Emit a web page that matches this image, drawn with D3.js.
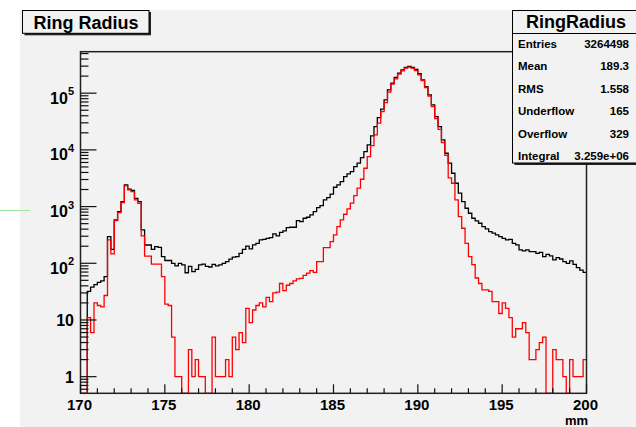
<!DOCTYPE html>
<html>
<head>
<meta charset="utf-8">
<script src="https://d3js.org/d3.v7.min.js"></script>
<style>
body{margin:0;background:#fff;}
svg{display:block;font-family:"Liberation Sans",Arial,sans-serif;font-weight:bold;}
</style>
</head>
<body>
<script>
(function(){

//histogram binning (mm)
var binLow = 170, binWidth = 0.2;

//RingRadius counts, one per 0.2 mm bin (black)
var ringRadius = [
    0, 0, 32, 38, 42, 46, 49, 58, 296, 176,
    580, 815, 1225, 2410, 2020, 1920, 1400, 1225, 388, 210,
    210, 176, 196, 190, 131, 112, 112, 100, 90, 100,
    94, 68, 88, 71, 78, 94, 97, 88, 86, 96,
    90, 94, 100, 107, 118, 128, 131, 150, 176, 200,
    179, 211, 225, 258, 265, 276, 284, 330, 304, 352,
    372, 426, 432, 432, 566, 544, 622, 648, 713, 816,
    960, 1041, 1312, 1443, 1652, 2194, 2411, 2760, 3381, 3768,
    4150, 5085, 5822, 7330, 9350, 12250, 17650, 25800, 37200, 52200,
    76300, 114500, 150000, 189000, 225000, 258000, 284000, 296000, 284000, 262000,
    220000, 172000, 131000, 93500, 62300, 38700, 25800, 15000, 8720, 5820,
    3870, 2580, 1720, 1225, 935, 762, 622, 558, 508, 444,
    404, 362, 339, 316, 296, 276, 258, 265, 225, 211,
    172, 165, 172, 161, 161, 150, 156, 131, 144, 135,
    115, 126, 119, 107, 100, 110, 96, 84, 76, 69
];

//second (red) histogram, same binning
var ringRadiusRed = [
    0, 0, 11, 6, 20, 18, 17, 27, 258, 146,
    565, 780, 1180, 2320, 1970, 1840, 1310, 1140, 304, 134,
    134, 97, 97, 97, 58, 19, 18, 5, 1, 1,
    0, 0, 3, 1, 2, 1, 1, 0, 0, 5,
    1, 1, 1, 2, 1, 5, 3, 6, 4, 16,
    9, 15, 18, 20, 17, 25, 21, 30, 31, 44,
    33, 41, 44, 49, 53, 54, 61, 67, 74, 69,
    107, 107, 189, 189, 241, 316, 444, 582, 733, 910,
    1146, 1563, 2109, 3035, 4745, 7620, 11920, 18400, 29550, 47400,
    68400, 104000, 144000, 179000, 216000, 248000, 276000, 288000, 276000, 250000,
    211000, 166000, 126000, 89000, 58000, 35500, 23000, 13500, 8000, 3200,
    2580, 1310, 667, 415, 225, 131, 95, 55, 44, 34,
    34, 32, 21, 21, 13, 20, 16, 11, 5, 7,
    7, 9, 6, 2, 2, 3, 4, 5, 0, 0,
    3, 2, 2, 1, 0, 2, 1, 1, 1, 2
];

var xTicks = [170, 175, 180, 185, 190, 195, 200];
var yDecades = [1, 10, 100, 1000, 10000, 100000];
var statsLabels = ["Entries", "Mean", "RMS", "Underflow", "Overflow", "Integral"];
var statsValues = ["3264498", "189.3", "1.558", "165", "329", "3.259e+06"];

var width = 636, height = 427;
var bg = "#f2f2f2";

var svg = d3.select("body")
    .append("svg")
    .attr("width", width)
    .attr("height", height);

//grey canvas
svg.append("rect")
    .attr("x", 20).attr("y", 10)
    .attr("width", width - 20).attr("height", height - 10)
    .attr("fill", bg);

//stray green line at the left edge
svg.append("line")
    .attr("x1", 0).attr("x2", 30)
    .attr("y1", 210.5).attr("y2", 210.5)
    .attr("stroke", "#9be89b").attr("stroke-width", 1);

//scales
var x = d3.scaleLinear()
    .domain([170, 200])
    .range([80.5, 586.5]);

var y = d3.scaleLog()
    .domain([0.509, 539000])
    .range([393.3, 51.7])
    .clamp(true);

var yFloor = y.domain()[0];

//histogram outline as step path
function histPath(counts){
    var pts = [[binLow, yFloor]];
    counts.forEach(function(v, i){
        var x0 = binLow + i * binWidth,
            val = v > 0 ? v : yFloor;
        pts.push([x0, val]);
        pts.push([x0 + binWidth, val]);
    });
    return d3.line()
        .x(function(d){ return x(d[0]); })
        .y(function(d){ return y(d[1]); })(pts);
}

svg.append("path")
    .attr("d", histPath(ringRadius))
    .attr("fill", "none")
    .attr("stroke", "#000")
    .attr("stroke-width", 1.3);

svg.append("path")
    .attr("d", histPath(ringRadiusRed))
    .attr("fill", "none")
    .attr("stroke", "#ff0000")
    .attr("stroke-width", 1.3);

//frame
var x0 = x.range()[0], x1 = x.range()[1],
    yb = y.range()[0], yt = y.range()[1];

svg.append("rect")
    .attr("x", x0).attr("y", yt)
    .attr("width", x1 - x0).attr("height", yb - yt)
    .attr("fill", "none")
    .attr("stroke", "#222")
    .attr("stroke-width", 1.5);

//y ticks, minor on every 1..9 x 10^n, major on decades
var ax = svg.append("g").attr("stroke", "#111").attr("stroke-width", 1.2);

y.ticks().forEach(function(t){
    var isMajor = yDecades.indexOf(t) >= 0;
    ax.append("line")
        .attr("x1", x0).attr("x2", x0 + (isMajor ? 16 : 8))
        .attr("y1", y(t)).attr("y2", y(t));
});

//x ticks, minor every mm
x.ticks(30).forEach(function(t){
    var isMajor = xTicks.indexOf(t) >= 0;
    ax.append("line")
        .attr("x1", x(t)).attr("x2", x(t))
        .attr("y1", yb).attr("y2", yb - (isMajor ? 9 : 5));
});

//y labels
yDecades.forEach(function(t){
    var exp = Math.round(Math.log10(t));
    var lab = svg.append("text")
        .attr("x", 74)
        .attr("text-anchor", "end")
        .attr("font-size", 16)
        .attr("fill", "#000");
    if (exp < 2){
        lab.attr("y", y(t) + 6).text(String(t));
    } else {
        lab.attr("y", y(t) + 10.5);
        lab.append("tspan").text("10");
        lab.append("tspan")
            .attr("dy", -8.5)
            .attr("font-size", 11)
            .text(String(exp));
    }
});

//x labels
xTicks.forEach(function(t){
    svg.append("text")
        .attr("x", x(t) - 1)
        .attr("y", 410)
        .attr("text-anchor", "middle")
        .attr("font-size", 15)
        .attr("fill", "#000")
        .text(t);
});

svg.append("text")
    .attr("x", 588)
    .attr("y", 425)
    .attr("text-anchor", "end")
    .attr("font-size", 13)
    .attr("fill", "#000")
    .text("mm");

//title box with shadow
svg.append("rect")
    .attr("x", 24.5).attr("y", 12)
    .attr("width", 126.5).attr("height", 23.3)
    .attr("fill", "#222");
svg.append("rect")
    .attr("x", 22.5).attr("y", 10.5)
    .attr("width", 126.5).attr("height", 22.8)
    .attr("fill", bg)
    .attr("stroke", "#000")
    .attr("stroke-width", 1);
svg.append("text")
    .attr("x", 86)
    .attr("y", 28.5)
    .attr("text-anchor", "middle")
    .attr("font-size", 18)
    .attr("fill", "#000")
    .text("Ring Radius");

//stats box
var sx = 512.5, sy = 10.5, sh = 152.5;
svg.append("rect")
    .attr("x", sx + 2).attr("y", sy + 2)
    .attr("width", 140).attr("height", sh)
    .attr("fill", "#222");
svg.append("rect")
    .attr("x", sx).attr("y", sy)
    .attr("width", 140).attr("height", sh)
    .attr("fill", bg)
    .attr("stroke", "#000")
    .attr("stroke-width", 1);
svg.append("line")
    .attr("x1", sx).attr("x2", width)
    .attr("y1", 33.5).attr("y2", 33.5)
    .attr("stroke", "#000");
svg.append("text")
    .attr("x", 576)
    .attr("y", 28)
    .attr("text-anchor", "middle")
    .attr("font-size", 18)
    .attr("fill", "#000")
    .text("RingRadius");

statsLabels.forEach(function(lab, i){
    var by = 48 + i * 22.4;
    svg.append("text")
        .attr("x", 518).attr("y", by)
        .attr("font-size", 11.5)
        .attr("fill", "#000")
        .text(lab);
    svg.append("text")
        .attr("x", 629).attr("y", by)
        .attr("text-anchor", "end")
        .attr("font-size", 11.5)
        .attr("fill", "#000")
        .text(statsValues[i]);
});

})();
</script>
</body>
</html>
